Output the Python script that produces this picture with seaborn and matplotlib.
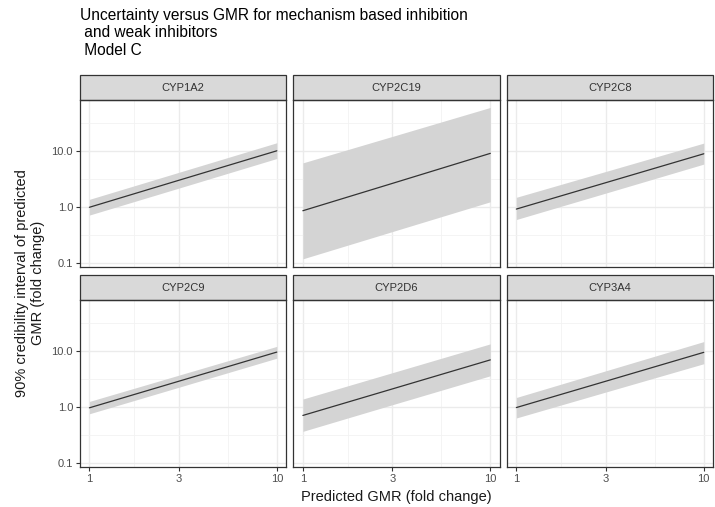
import numpy as np
import pandas as pd
import seaborn as sns
import matplotlib
matplotlib.use("Agg")
from matplotlib import pyplot as plt
from matplotlib.patches import Rectangle
from matplotlib.ticker import FixedLocator, NullFormatter

# values (log-log straight lines)
enzymes = ["CYP1A2", "CYP2C19", "CYP2C8", "CYP2C9", "CYP2D6", "CYP3A4"]
gmr = [1, 3, 10]

med_1a2 = [0.99, 2.99, 10.0]
lo_1a2 = [0.72, 2.17, 7.3]
hi_1a2 = [1.37, 4.14, 13.9]

med_2c19 = [0.86, 2.63, 9.0]
lo_2c19 = [0.12, 0.366, 1.24]
hi_2c19 = [6.1, 18.0, 59.0]

med_2c8 = [0.92, 2.71, 8.85]
lo_2c8 = [0.60, 1.77, 5.8]
hi_2c8 = [1.49, 4.29, 13.7]

med_2c9 = [0.97, 2.88, 9.5]
lo_2c9 = [0.76, 2.25, 7.4]
hi_2c9 = [1.26, 3.69, 12.0]

med_2d6 = [0.71, 2.10, 6.9]
lo_2d6 = [0.37, 1.10, 3.6]
hi_2d6 = [1.39, 4.08, 13.3]

med_3a4 = [0.98, 2.88, 9.4]
lo_3a4 = [0.64, 1.85, 5.9]
hi_3a4 = [1.48, 4.41, 14.6]

x_ticks = [1, 3, 10]
x_ticklabels = ["1", "3", "10"]
y_ticks = [0.1, 1, 10]
y_ticklabels = ["0.1", "1.0", "10.0"]

title = "Uncertainty versus GMR for mechanism based inhibition\n and weak inhibitors\n Model C"
xlab = "Predicted GMR (fold change)"
ylab = "90% credibility interval of predicted\nGMR (fold change)"

series = {
    "CYP1A2": (med_1a2, lo_1a2, hi_1a2),
    "CYP2C19": (med_2c19, lo_2c19, hi_2c19),
    "CYP2C8": (med_2c8, lo_2c8, hi_2c8),
    "CYP2C9": (med_2c9, lo_2c9, hi_2c9),
    "CYP2D6": (med_2d6, lo_2d6, hi_2d6),
    "CYP3A4": (med_3a4, lo_3a4, hi_3a4),
}
rows = []
for enz in enzymes:
    med, lo, hi = series[enz]
    for i in range(len(gmr)):
        rows.append({"enzyme": enz, "gmr": gmr[i], "median": med[i],
                     "lower": lo[i], "upper": hi[i]})
df = pd.DataFrame(rows)

sns.set_theme(style="white")
plt.rcParams["font.family"] = ["Liberation Sans", "DejaVu Sans"]


def ribbon(data, **kws):
    ax = plt.gca()
    ax.fill_between(data["gmr"], data["lower"], data["upper"],
                    color="#D4D4D4", linewidth=0, zorder=2)
    sns.lineplot(data=data, x="gmr", y="median", color="#333333",
                 linewidth=0.9, ax=ax, zorder=3)


g = sns.FacetGrid(df, col="enzyme", col_wrap=3, col_order=enzymes,
                  sharex=True, sharey=True, height=2, aspect=1.2)
g.map_dataframe(ribbon)
g.figure.set_size_inches(7.15, 5.07)
g.figure.subplots_adjust(left=80 / 715, right=713 / 715,
                         bottom=1 - 467 / 507, top=1 - 100 / 507,
                         wspace=0.036, hspace=0.198)

x_minor = [np.sqrt(3), np.sqrt(30)]
y_minor = [np.sqrt(0.1), np.sqrt(10), np.sqrt(1000)]

for k, ax in enumerate(g.axes.flat):
    ax.set_xscale("log")
    ax.set_yscale("log")
    ax.set_xlim(0.891, 11.2)
    ax.set_ylim(0.086, 80)
    ax.xaxis.set_major_locator(FixedLocator(x_ticks))
    ax.xaxis.set_minor_locator(FixedLocator(x_minor))
    ax.yaxis.set_major_locator(FixedLocator(y_ticks))
    ax.yaxis.set_minor_locator(FixedLocator(y_minor))
    ax.xaxis.set_minor_formatter(NullFormatter())
    ax.yaxis.set_minor_formatter(NullFormatter())
    ax.set_xticklabels(x_ticklabels)
    ax.set_yticklabels(y_ticklabels)
    ax.grid(True, which="major", color="#EBEBEB", linewidth=1.0, zorder=0)
    ax.grid(True, which="minor", color="#F2F2F2", linewidth=0.6, zorder=0)
    ax.set_axisbelow(True)
    ax.tick_params(which="major", length=3, width=0.8, color="#333333",
                   labelsize=8, labelcolor="#4D4D4D", pad=2,
                   bottom=(k >= 3), left=(k % 3 == 0))
    ax.tick_params(which="minor", length=0)
    if k < 3:
        ax.tick_params(labelbottom=False)
    if k % 3 != 0:
        ax.tick_params(labelleft=False)
    for sp in ax.spines.values():
        sp.set_visible(True)
        sp.set_color("#333333")
        sp.set_linewidth(0.9)
    ax.set_xlabel("")
    ax.set_ylabel("")
    ax.set_title("")
    # strip on top of each panel
    strip_h = 25 / 167
    ax.add_patch(Rectangle((0, 1), 1, strip_h, transform=ax.transAxes,
                           facecolor="#D9D9D9", edgecolor="#333333",
                           linewidth=0.9, clip_on=False))
    ax.text(0.5, 1 + strip_h / 2, enzymes[k], transform=ax.transAxes,
            ha="center", va="center", fontsize=8, color="#333333")

fig = g.figure
fig.text(80 / 715, 1 - 8 / 507, title, ha="left", va="top",
         fontsize=11.2, color="#000000", linespacing=1.2)
fig.text(396.5 / 715, 1 - 497 / 507, xlab, ha="center", va="center",
         fontsize=10.5, color="#1A1A1A")
fig.text(30 / 715, 1 - 283 / 507, ylab, ha="center", va="center",
         rotation=90, fontsize=10.5, color="#1A1A1A", multialignment="center")

fig.savefig("out.png", dpi=100, facecolor="white")
